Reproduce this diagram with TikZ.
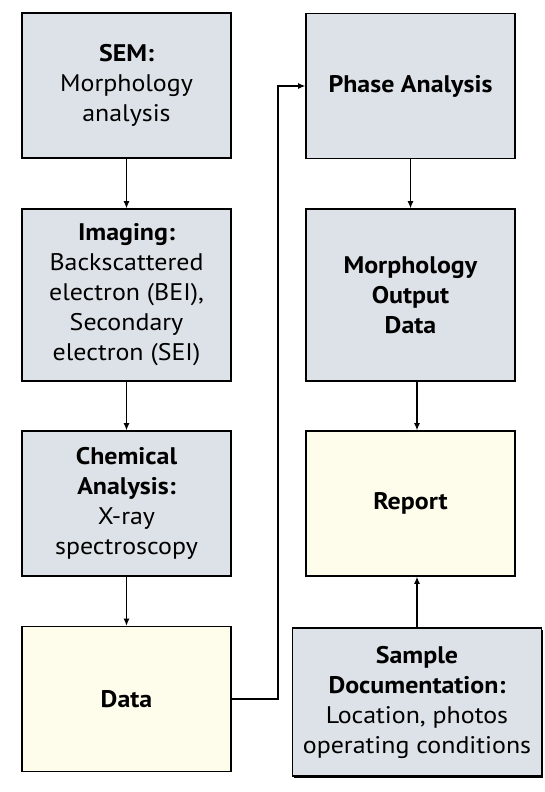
\documentclass[tikz,border=0pt]{standalone}
\usepackage{fontspec}
\setmainfont{PT Sans}[FakeStretch=1.08]
\usepackage{tikz}
\usetikzlibrary{arrows.meta,positioning,shadows}
\usepackage{xcolor}
\definecolor{semgrey}{HTML}{DCE2E7}
\definecolor{outcream}{HTML}{FEFCEA}

\begin{document}
\begin{tikzpicture}[x=1pt, y=1pt,
    box/.style={rectangle, draw, line width=1.6pt, fill=semgrey, minimum width=209pt, minimum height=145pt, inner sep=2pt, align=center, font=\fontsize{24}{30}\selectfont},
    tallbox/.style={box, minimum height=172pt},
    arrow/.style={-{Latex[length=7pt, width=6pt]}, line width=1.1pt}
]
\useasboundingbox (0,0) rectangle (544,-792);

% Left column
\node[box] (sem) at (126.5,-85.5) {\textbf{SEM:}\\Morphology\\analysis};
\node[tallbox] (imaging) at (126.5,-295) {\textbf{Imaging:}\\Backscattered\\electron (BEI),\\Secondary\\electron (SEI)};
\node[box] (chem) at (126.5,-503.5) {\textbf{Chemical}\\\textbf{Analysis:}\\X-ray\\spectroscopy};
\node[box, fill=outcream] (data) at (126.5,-699) {\textbf{Data}};

% Right column
\node[box] (phase) at (410.5,-86) {\textbf{Phase Analysis}};
\node[tallbox] (morph) at (410.5,-295) {\textbf{Morphology}\\\textbf{Output}\\\textbf{Data}};
\node[box, fill=outcream] (report) at (410.5,-503.5) {\textbf{Report}};
\node[box, minimum width=249pt, minimum height=148pt, drop shadow={shadow xshift=1.8pt, shadow yshift=-1.8pt, fill=black, opacity=1}] (sample) at (417,-702) {\textbf{Sample}\\\textbf{Documentation:}\\Location, photos\\operating conditions};

% Arrows
\draw[arrow] (sem) -- (imaging);
\draw[arrow] (imaging) -- (chem);
\draw[arrow] (chem) -- (data);
\draw[arrow] (data.east) -| (278,-86) -- (phase.west);
\draw[arrow] (phase) -- (morph);
\draw[arrow] (morph.south -| sample) -- (report.north -| sample);
\draw[arrow] (sample) -- (report.south -| sample);

\end{tikzpicture}
\end{document}
